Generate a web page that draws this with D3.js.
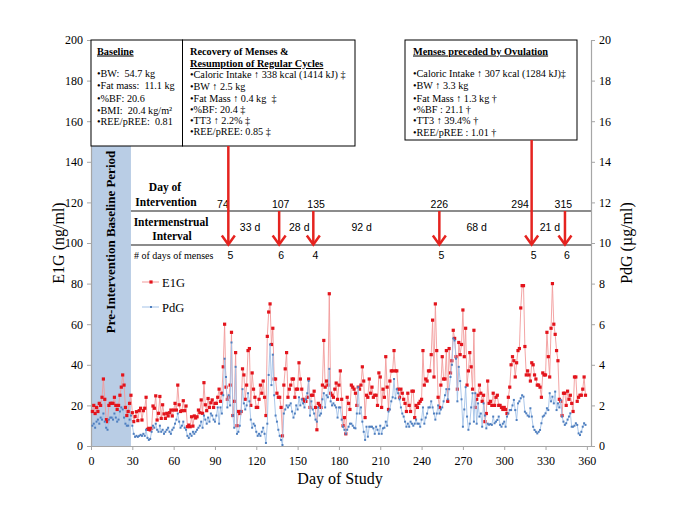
<!DOCTYPE html>
<html><head><meta charset="utf-8">
<script src="https://cdn.jsdelivr.net/npm/d3@7"></script>
<style>body{margin:0;background:#fff}svg{display:block}</style>
</head><body>
<svg id="c" width="685" height="513"></svg>
<script>
// ---------------- DATA ----------------
const firstDay = 1;
const e1g = [
17,20,16,19,17,21,20,24,33,23,13,12,20,21,21,21,24,20,18,20,25,29,35,30,19,15,17,21,25,
16.4,12,14.5,16.9,12.5,17.4,18.6,12.8,17.4,18.6,
24,8.2,8.7,7.9,8.7,19.7,18.6,24.7,12.8,16.1,
24.4,13.6,20.3,15.8,13.6,16.1,14.8,16.4,17.7,14.8,
17.7,21,17.7,30,20.3,17,17.4,22.3,17.4,19.7,
9.5,10.3,9.5,14.4,9.8,14.8,13.8,14.4,17.7,16.4,
22.7,16.1,31.2,20.3,17.4,23.4,19,21.3,22.7,19,21,
21,24,28,22,26,39,60,29,23,24,
30,56,15,22,46,10,17,16,17,38,
35,23,30,47,48,20,36,28,24,19,
19,23,30,26,32,24,15,54,66,70,
50,58,33,33,26,24,24,19,5,30,
38,46,24,28,30,33,33,24,28,28,
41,33,28,23,22,22,24,33,19,25,
25,27,19,8,21,20,19,30,52,29,
32,30,75,26,25,24,28,
31,23,30,37,23,10,14,6,24,21,
18,30,29,28,26,20,29,28,30,39,
32,14,25,24,33,26,29,24,25,25,
20,36,34,19,28,24,44,29,18,32,
37,37,47,37,37,28,24,28,26,23,
21,17,26,20,17,27,27,14,20,19,
21,22,23,47,30,33,32,37,37,45,
62,34,70,47,24,19,30,44,33,33,
47,22,48,36,42,57,53,44,28,51,
45,50,
67,44,58,30,37,46,39,28,57,19,
23,25,30,26,22,25,12,16,32,21,
22,20,26,20,24,25,20,20,19,18,
19,18,16,24,29,40,44,42,34,41,
47,48,68,79,79,49,35,37,35,32,
41,40,35,33,30,30,29,24,36,35,
35,56,44,34,58,80,60,55,47,42,
23,22,15,26,26,20,27,23,25,21,
17,34,34,22,24,25,25,28,34,25
];
const pdg = [
1.0,1.1,0.9,1.2,1.3,1.1,1.4,1.3,1.6,1.2,0.9,0.8,1.3,1.4,1.4,1.3,1.6,1.4,1.2,1.3,1.7,1.9,1.8,1.4,1.1,1.0,1.0,1.3,1.5,
1.0,0.6,0.45,0.5,0.45,0.5,0.55,0.5,0.6,0.5,
0.8,0.4,0.3,0.35,0.7,1.0,0.9,1.1,0.8,0.7,
1.0,0.7,0.8,0.6,0.7,0.8,0.9,0.7,0.6,0.8,
0.9,1.1,1.3,1.6,1.2,0.9,1.0,1.2,0.9,0.8,
0.5,0.4,0.6,0.5,0.7,0.6,0.7,0.8,0.9,1.0,
1.2,0.9,1.5,1.3,1.1,1.4,1.2,1.6,1.5,1.3,1.2,
1.5,1.9,1.1,1.9,1.6,2.5,4.3,3.4,1.9,2.5,
2.0,5.1,1.5,0.9,3.9,0.6,0.7,1.0,1.7,2.8,
2.1,1.8,2.0,2.6,2.2,1.3,0.9,1.1,1.0,0.7,
0.5,0.6,0.5,0.7,0.9,0.6,0.15,1.1,3.5,5.0,
3.0,4.5,2.5,1.5,1.2,0.8,0.5,0.3,0.05,1.6,
1.8,2.0,1.9,2.0,2.1,1.7,1.4,1.6,2.0,1.8,
2.4,2.0,2.3,2.1,1.9,2.3,2.6,3.2,1.5,2.2,
1.8,1.6,1.3,1.2,1.9,1.5,1.6,2.3,2.6,1.9,
2.5,2.4,3.8,2.2,2.0,2.1,2.0,
1.9,1.4,1.9,1.9,1.3,0.95,0.8,0.6,0.8,0.95,
1.1,1.1,1.0,0.9,0.87,1.6,2.9,1.6,1.9,1.2,
0.7,0.3,0.95,0.46,0.95,0.95,0.95,0.87,0.6,0.95,
0.8,0.6,1.0,0.6,0.87,0.9,1.2,1.0,1.7,1.8,
2.2,2.4,3.3,2.35,2.8,2.6,2.3,1.9,1.6,1.45,
1.2,0.95,1.1,0.95,1.2,1.1,1.0,1.1,1.3,1.1,
1.1,0.95,1.3,1.9,1.1,1.4,1.6,1.9,1.9,2.2,
1.9,1.6,1.3,1.6,2.0,1.6,1.8,1.9,2.2,2.5,
2.8,2.3,2.8,3.4,4.0,5.3,5.2,4.3,2.2,3.9,
3.2,2.3,
0.95,1.8,2.9,1.45,0.8,1.1,1.9,2.6,1.2,2.6,
1.1,2.1,1.45,1.6,0.95,2.1,1.5,0.87,1.1,1.05,
1.08,1.04,1.45,1.12,1.2,1.28,1.45,1.04,0.95,1.1,
1.2,0.95,1.45,1.6,1.77,1.77,2.0,2.27,1.77,1.28,
2.1,2.2,2.35,2.5,2.43,1.69,1.61,1.5,1.45,1.86,
1.45,0.95,0.79,0.7,0.62,0.7,0.79,1.12,1.45,1.5,
1.61,1.86,1.77,2.6,2.2,2.43,2.1,2.68,1.77,2.1,
1.9,2.27,1.45,1.2,1.04,1.12,1.3,1.45,1.61,0.95,
0.95,1.0,1.12,1.04,0.62,0.54,0.7,0.95,1.12,1.04
];
const xTickValues = [0,30,60,90,120,150,180,210,240,270,300,330,360];
const e1gTicks = [0,20,40,60,80,100,120,140,160,180,200];
const pdgTicks = [0,2,4,6,8,10,12,14,16,18,20];
const baselinePeriod = [0, 29];
// menses annotations (day of study)
const mensesStudyDay = [99.7, 136.6, 161.4, 252.9, 319.9, 344.1];
const interventionDay = ["74","107","135","226","294","315"];
const interventionLabelDay = [95.8, 137.7, 163.4, 252.9, 311.5, 342.9];
const intervalLabels = ["33 d","28 d","92 d","68 d","21 d"];
const intervalLabelDay = [115.5, 151.2, 196.5, 280, 333.2];
const mensesDays = ["5","6","4","5","5","6"];
const longArrow = [true,false,false,false,true,false];
const box1 = {title:["Baseline"], lines:["•BW:  54.7 kg","•Fat mass:  11.1 kg","•%BF: 20.6","•BMI:  20.4 kg/m²","•REE/pREE:  0.81"]};
const box2 = {title:["Recovery of Menses &","Resumption of Regular Cycles"], lines:["•Caloric Intake ↑ 338 kcal (1414 kJ) ‡","•BW ↑ 2.5 kg","•Fat Mass ↑ 0.4 kg  ‡","•%BF: 20.4 ‡","•TT3 ↑ 2.2% ‡","•REE/pREE: 0.85 ‡"]};
const box3 = {title:["Menses preceded by Ovulation"], lines:["•Caloric Intake ↑ 307 kcal (1284 kJ)‡","•BW ↑ 3.3 kg","•Fat Mass ↑ 1.3 kg †","•%BF : 21.1 †","•TT3 ↑ 39.4% †","•REE/pREE : 1.01 †"]};

// ---------------- CHART ----------------
const SERIF = "'Liberation Serif','Times New Roman',serif";
const SANS = "'Liberation Sans',Arial,sans-serif";
const svg = d3.select('#c');
const L=91, R=591, T=40, B=446;
const x = d3.scaleLinear().domain([0,363]).range([L,R]);
const yL = d3.scaleLinear().domain([0,200]).range([B,T]);
const yR = d3.scaleLinear().domain([0,20]).range([B,T]);

// baseline band
svg.append('rect').attr('x',x(baselinePeriod[0])).attr('y',T)
  .attr('width',x(baselinePeriod[1])-x(baselinePeriod[0])).attr('height',B-T)
  .attr('fill','#b9cde5');
svg.append('text').attr('transform',`translate(${(x(baselinePeriod[0])+x(baselinePeriod[1]))/2},242) rotate(-90)`)
  .attr('text-anchor','middle').attr('dominant-baseline','central')
  .style('font-family',SERIF).style('font-weight','bold').style('font-size','13px')
  .text('Pre-Intervention Baseline Period');

// axes
function styleAxis(g){
  g.selectAll('path.domain').attr('stroke','#a6a6a6').attr('stroke-width',1.2);
  g.selectAll('.tick line').attr('stroke','#a6a6a6');
  g.selectAll('.tick text').style('font-family',SERIF).style('font-size','12px').attr('fill','#000');
}
svg.append('g').attr('transform',`translate(0,${B})`)
  .call(d3.axisBottom(x).tickValues(xTickValues).tickSize(4).tickSizeOuter(0).tickPadding(6).tickFormat(d3.format('d')))
  .call(styleAxis);
svg.append('g').attr('transform',`translate(${L},0)`)
  .call(d3.axisLeft(yL).tickValues(e1gTicks).tickSize(4).tickSizeOuter(0).tickPadding(4))
  .call(styleAxis);
svg.append('g').attr('transform',`translate(${R},0)`)
  .call(d3.axisRight(yR).tickValues(pdgTicks).tickSize(4).tickSizeOuter(0).tickPadding(4))
  .call(styleAxis);

svg.append('text').attr('transform','translate(58,243) rotate(-90)').attr('text-anchor','middle')
  .attr('dominant-baseline','central').style('font-family',SERIF).style('font-size','16px').text('E1G (ng/ml)');
svg.append('text').attr('transform','translate(626,243) rotate(-90)').attr('text-anchor','middle')
  .attr('dominant-baseline','central').style('font-family',SERIF).style('font-size','16px').text('PdG (µg/ml)');
svg.append('text').attr('x',340).attr('y',484).attr('text-anchor','middle')
  .style('font-family',SERIF).style('font-size','16px').text('Day of Study');

// table lines
[211,245].forEach(yy=>{
  svg.append('line').attr('x1',x(baselinePeriod[1])).attr('x2',R).attr('y1',yy).attr('y2',yy)
    .attr('stroke','#8c8c8c').attr('stroke-width',2);
});
function bold(t,xx,yy){
  svg.append('text').attr('x',xx).attr('y',yy).attr('text-anchor','middle')
    .style('font-family',SERIF).style('font-weight','bold').style('font-size','11.5px').text(t);
}
bold('Day of',165,191); bold('Intervention',166,205.5);
bold('Intermenstrual',171,225.5); bold('Interval',172,239.5);
svg.append('text').attr('x',134).attr('y',258.5).style('font-family',SERIF).style('font-size','10px').text('# of days of menses');

const sansText=(t,xx,yy)=>svg.append('text').attr('x',xx).attr('y',yy).attr('text-anchor','middle')
  .style('font-family',SANS).style('font-size','10.5px').text(t);
interventionDay.forEach((t,i)=>sansText(t,x(interventionLabelDay[i]),208));
intervalLabels.forEach((t,i)=>sansText(t,x(intervalLabelDay[i]),231));
mensesDays.forEach((t,i)=>sansText(t,x(mensesStudyDay[i])+2,259));

// series
const e1gData = e1g.map((v,i)=>({d:firstDay+i,v}));
const pdgData = pdg.map((v,i)=>({d:firstDay+i,v}));
svg.append('path').datum(e1gData).attr('fill','none').attr('stroke','#f29b9b').attr('stroke-width',0.9)
  .attr('d',d3.line().x(p=>x(p.d)).y(p=>yL(p.v)));
svg.append('g').selectAll('rect').data(e1gData).join('rect')
  .attr('x',p=>x(p.d)-1.6).attr('y',p=>yL(p.v)-1.6).attr('width',3.2).attr('height',3.2).attr('fill','#e3141c');
svg.append('path').datum(pdgData).attr('fill','none').attr('stroke','#a3c2e8').attr('stroke-width',0.9)
  .attr('d',d3.line().x(p=>x(p.d)).y(p=>yR(p.v)));
svg.append('g').selectAll('rect').data(pdgData).join('rect')
  .attr('x',p=>x(p.d)-1).attr('y',p=>yR(p.v)-1).attr('width',2).attr('height',2).attr('fill','#4f7fbf');

// legend
function legend(yy,lc,mc,ms,label){
  svg.append('line').attr('x1',142).attr('x2',159).attr('y1',yy).attr('y2',yy).attr('stroke',lc).attr('stroke-width',1);
  svg.append('rect').attr('x',151-ms/2).attr('y',yy-ms/2).attr('width',ms).attr('height',ms).attr('fill',mc);
  svg.append('text').attr('x',162).attr('y',yy+4.5).style('font-family',SERIF).style('font-size','12.5px').text(label);
}
legend(282,'#f29b9b','#e3141c',3.2,'E1G');
legend(307,'#a3c2e8','#4f7fbf',2,'PdG');

// boxes
function box(b,x0,x1,y0,y1,tx,titleY,lineY){
  svg.append('rect').attr('x',x0).attr('y',y0).attr('width',x1-x0).attr('height',y1-y0)
    .attr('fill','#fff').attr('stroke','#000').attr('stroke-width',1);
  b.title.forEach((t,i)=>{
    svg.append('text').attr('x',tx).attr('y',titleY[i]).style('font-family',SERIF).style('font-weight','bold')
      .style('font-size','10.3px').style('text-decoration',i===b.title.length-1?'underline':'none').text(t);
  });
  b.lines.forEach((t,i)=>{
    svg.append('text').attr('x',tx).attr('y',lineY[i]).attr('xml:space','preserve').style('white-space','pre')
      .style('font-family',SERIF).style('font-size','10.2px').text(t);
  });
}
box(box1,91,182.5,40,146,97,[54.5],[76.5,89,101.5,113.5,125]);
box(box2,182.5,355,40,146,190,[54.5,67],[78,89.5,101.5,112.5,123.5,135]);
box(box3,405,577,40,140,413,[54.5],[76.5,89,101.5,113,124,135.5]);

// arrows
const arrowTop = i => longArrow[i] ? (i<3?146:140) : 211;
mensesStudyDay.forEach((d,i)=>{
  const xx=x(d), tip=244.5;
  svg.append('line').attr('x1',xx).attr('x2',xx).attr('y1',arrowTop(i)).attr('y2',tip-1)
    .attr('stroke','#e5231f').attr('stroke-width',2.5);
  svg.append('path').attr('d',`M${xx-6.5},${tip-9}L${xx},${tip}L${xx+6.5},${tip-9}`)
    .attr('fill','none').attr('stroke','#e5231f').attr('stroke-width',2.5).attr('stroke-linejoin','miter');
});
</script>
</body></html>
